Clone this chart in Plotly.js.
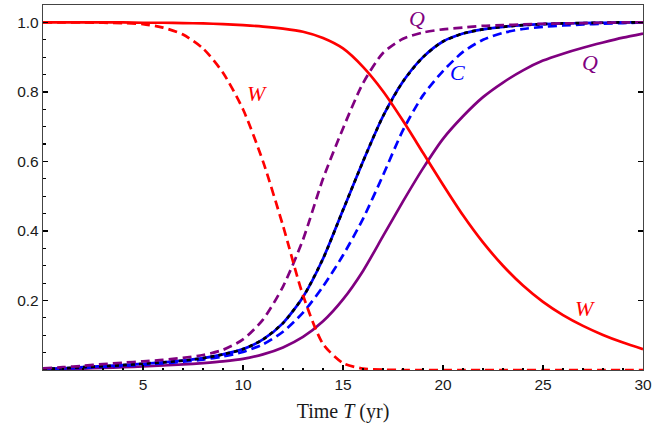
<!DOCTYPE html>
<html>
<head>
<meta charset="utf-8">
<script src="https://cdn.plot.ly/plotly-3.0.1.min.js"></script>
<style>
  html, body { margin: 0; padding: 0; background: #ffffff; }
  #chart { width: 672px; height: 434px; }
</style>
</head>
<body>
<div id="chart"></div>
<script>
// Time axis (years)
const timeT = [0,1,2,3,4,5,6,7,8,9,10,11,12,13,14,15,16,17,18,19,20,21,22,23,24,25,26,27,28,29,30];

// W solid (red)
const wSolid = [1,1,1,1,1,0.999,0.999,0.998,0.997,0.995,0.992,0.988,0.982,0.973,0.955,0.925,0.872,0.802,0.717,0.625,0.533,0.445,0.367,0.3,0.243,0.196,0.158,0.127,0.101,0.079,0.06];
// W dashed (red)
const wDashed = [1,1,1,0.999,0.998,0.995,0.985,0.965,0.925,0.855,0.75,0.6,0.415,0.215,0.075,0.02,0.004,0.001,0,0,0,0,0,0,0,0,0,0,0,0,0];
// Q dashed (purple)
const qDashed = [0.005,0.008,0.012,0.017,0.021,0.025,0.029,0.035,0.043,0.058,0.088,0.145,0.24,0.375,0.55,0.695,0.825,0.912,0.953,0.971,0.98,0.985,0.99,0.992,0.994,0.996,0.997,0.998,0.999,1,1];
// Q solid (purple)
const qSolid = [0.002,0.003,0.004,0.006,0.008,0.01,0.013,0.016,0.02,0.025,0.032,0.045,0.065,0.095,0.14,0.203,0.285,0.385,0.485,0.58,0.665,0.73,0.785,0.827,0.862,0.89,0.91,0.927,0.942,0.956,0.968];
// C solid (blue, overlaid by black dashes)
const cSolid = [0.003,0.005,0.008,0.011,0.014,0.018,0.022,0.027,0.034,0.045,0.06,0.088,0.135,0.21,0.32,0.46,0.6,0.73,0.83,0.9,0.945,0.968,0.98,0.987,0.992,0.995,0.997,0.998,0.999,1,1];
// C dashed (blue)
const cDashed = [0.002,0.004,0.006,0.009,0.012,0.015,0.019,0.024,0.03,0.039,0.052,0.074,0.11,0.165,0.24,0.33,0.435,0.56,0.69,0.79,0.86,0.915,0.95,0.97,0.981,0.987,0.991,0.994,0.996,0.998,1];

// Tick labels
const xTickVals = [5,10,15,20,25,30];
const xTickText = ["5","10","15","20","25","30"];
const yTickVals = [0.2,0.4,0.6,0.8,1.0];
const yTickText = ["0.2","0.4","0.6","0.8","1.0"];

const RED = '#ff0000', PURPLE = '#800080', BLUE = '#0000ff';
const LW = 2.7;

function tr(y, color, dash, width) {
  return {
    x: timeT, y: y, type: 'scatter', mode: 'lines',
    line: {color: color, width: width || LW, dash: dash || 'solid', shape: 'spline', smoothing: 0.7},
    hoverinfo: 'skip', showlegend: false
  };
}

const data = [
  tr(qSolid, PURPLE, 'solid'),
  tr(cDashed, BLUE, '9px,5px'),
  tr(cSolid, BLUE, 'solid'),
  tr(cSolid, '#000000', '4px,4px'),
  tr(qDashed, PURPLE, '9px,5px'),
  tr(wDashed, RED, '9px,5px'),
  tr(wSolid, RED, 'solid')
];

const labFont = (c) => ({family: 'Liberation Serif, Times New Roman, serif', size: 22, color: c});
function lab(x, y, text, c) {
  return {x: x, y: y, xref: 'x', yref: 'y', text: '<i>' + text + '</i>', showarrow: false, font: labFont(c)};
}

const layout = {
  width: 672, height: 434,
  margin: {l: 43, r: 29, t: 5, b: 64},
  paper_bgcolor: '#ffffff', plot_bgcolor: '#ffffff',
  font: {family: 'Liberation Sans, Arial, sans-serif', size: 15.5, color: '#1a1a1a'},
  xaxis: {
    range: [0, 30], tickmode: 'array', tickvals: xTickVals, ticktext: xTickText,
    ticks: 'inside', ticklen: 5, tickwidth: 1.2, tickcolor: '#000',
    minor: {dtick: 1, ticks: 'inside', ticklen: 2.5, tickwidth: 1.2, tickcolor: '#000'},
    showline: true, mirror: true, linecolor: '#444', linewidth: 1.2,
    showgrid: false, zeroline: false,
    title: {text: 'Time <i>T</i> (yr)', font: {family: 'Liberation Serif, Times New Roman, serif', size: 20, color: '#1a1a1a'}, standoff: 12}
  },
  yaxis: {
    range: [0, 1.05], tickmode: 'array', tickvals: yTickVals, ticktext: yTickText,
    ticks: 'inside', ticklen: 5, tickwidth: 1.2, tickcolor: '#000',
    minor: {dtick: 0.05, ticks: 'inside', ticklen: 2.5, tickwidth: 1.2, tickcolor: '#000'},
    showline: true, mirror: true, linecolor: '#444', linewidth: 1.2,
    showgrid: false, zeroline: false
  },
  yaxis2: {
    overlaying: 'y', side: 'right', matches: 'y', range: [0, 1.05],
    tickmode: 'array', tickvals: yTickVals, showticklabels: false,
    ticks: 'inside', ticklen: 5, tickwidth: 1.2, tickcolor: '#000',
    showgrid: false, zeroline: false, showline: false
  },
  annotations: [
    lab(18.7, 1.012, 'Q', PURPLE),
    lab(20.7, 0.857, 'C', BLUE),
    lab(27.35, 0.885, 'Q', PURPLE),
    lab(27.1, 0.178, 'W', RED),
    lab(10.7, 0.795, 'W', RED)
  ]
};

// invisible trace so the right-hand tick axis renders
data.push({x: [0], y: [0], yaxis: 'y2', type: 'scatter', mode: 'markers', marker: {opacity: 0}, hoverinfo: 'skip', showlegend: false});

Plotly.newPlot('chart', data, layout, {displayModeBar: false, staticPlot: true});
</script>
</body>
</html>
